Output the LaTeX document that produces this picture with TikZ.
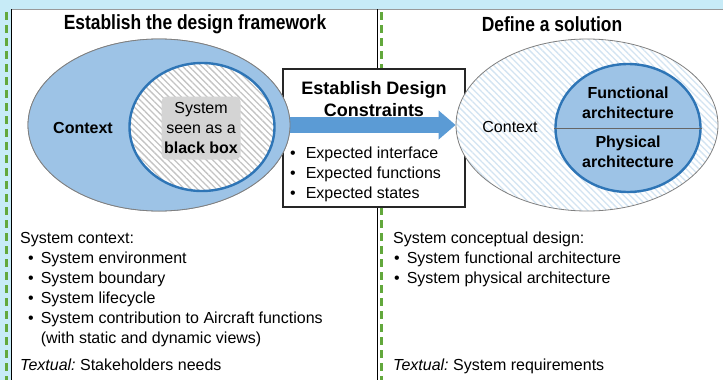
\documentclass[tikz,border=0pt]{standalone}
\usepackage{fontspec}
\setmainfont{Liberation Sans}
\newfontfamily\headfont[FakeStretch=0.85]{Liberation Sans Bold}
\usetikzlibrary{shapes.geometric,patterns.meta,arrows.meta}
\frenchspacing

\definecolor{bgblue}{HTML}{C7EBF7}
\definecolor{dashgreen}{HTML}{62A83C}
\definecolor{ctxblue}{HTML}{9DC3E6}
\definecolor{ringblue}{HTML}{2E75B6}
\definecolor{arrowblue}{HTML}{5B9BD5}
\definecolor{boxgray}{HTML}{D4D4D4}
\definecolor{hatchgray}{HTML}{C4C4C4}
\definecolor{hatchblue}{HTML}{D3E4F2}

\begin{document}
\begin{tikzpicture}[x=1pt,y=-1pt,>=latex,
  every node/.style={inner sep=0pt,font=\fontsize{16}{20}\selectfont},
  headline/.style={font=\headfont\fontsize{20.5}{24}\selectfont},
  boldtext/.style={font=\bfseries\fontsize{16}{20}\selectfont,align=center},
  outerell/.style={ellipse,draw=gray,line width=0.8pt,minimum width=262pt,minimum height=172pt},
  innerell/.style={ellipse,draw=ringblue,line width=2.4pt,minimum width=145pt,minimum height=128pt},
  hatched/.style={preaction={fill=white},preaction={pattern={Lines[angle=-45,distance=4.5pt,line width=1.3pt]},pattern color=#1}},
  greendash/.style={draw=dashgreen,line width=3pt,dash pattern=on 8pt off 5pt}]

\useasboundingbox (0,0) rectangle (723,380);

% background and panel
\fill[bgblue] (0,0) rectangle (723,380);
\fill[white] (11,9) rectangle (723,380);
\draw[gray!80,line width=0.8pt] (11,9) -- (723,9);

% panel borders
\draw[line width=0.9pt] (11.5,9) -- (11.5,380);
\draw[greendash] (6,12) -- (6,380);
\draw[line width=0.9pt] (377.5,9) -- (377.5,380);
\draw[greendash] (381,12) -- (381,380);

% titles
\node[headline] (ttlL) at (195,24) {Establish the design framework};
\node[headline] (ttlR) at (552,24) {Define a solution};

% constraints box
\node[draw=black!85,line width=1.1pt,fill=white,minimum width=182pt,minimum height=138pt] (dcbox) at (374,138) {};
\node[font=\bfseries\fontsize{18}{22}\selectfont,align=center] (dctitle) at (374,99) {Establish Design\\Constraints};
\node[anchor=base west] (dclist) at (287,158.7) {%
  \begin{tabular}[t]{@{}l@{\hspace{10pt}}l@{}}
    \hspace{3pt}\textbullet & Expected interface\\
    \hspace{3pt}\textbullet & Expected functions\\
    \hspace{3pt}\textbullet & Expected states
  \end{tabular}};

% context ellipses
\node[outerell,fill=ctxblue] (ctxL) at (159,125) {};
\node[outerell,hatched=hatchblue] (ctxR) at (587,125) {};
\draw[line width=16pt,draw=arrowblue,-{Triangle[length=17pt,width=28pt]}] ([xshift=-6pt]ctxL.east) -- (ctxR.west);
\node[outerell,fill=ctxblue] at (159,125) {};

% left: system as black box
\node[font=\bfseries\fontsize{16}{20}\selectfont] (ctxLtxt) at (83,128) {Context};
\node[innerell,hatched=hatchgray] (sysL) at (202,127) {};
\node[fill=boxgray,rounded corners=5pt,minimum width=79pt,minimum height=63pt,align=center] (bbox) at (201,128) {System\\seen as a\\\textbf{black box}};

% right: architectures
\node (ctxRtxt) at (510,127) {Context};
\node[innerell,fill=ctxblue] (archR) at (628,128) {};
\draw[black!60,line width=0.8pt] (archR.west) -- (archR.east);
\node[boldtext] (func) at (628,103) {Functional\\architecture};
\node[boldtext] (phys) at (628,152) {Physical\\architecture};

% bottom texts
\node[anchor=base west] (listL) at (20,243.7) {%
  \begin{tabular}[t]{@{}l@{\hspace{7pt}}l@{}}
    \multicolumn{2}{@{}l@{}}{System context:}\\
    \hspace{8pt}\textbullet & System environment\\
    \hspace{8pt}\textbullet & System boundary\\
    \hspace{8pt}\textbullet & System lifecycle\\
    \hspace{8pt}\textbullet & System contribution to Aircraft functions\\
     & (with static and dynamic views)
  \end{tabular}};
\node[anchor=base west] (txtL) at (20,370.7) {{\itshape Textual:} Stakeholders needs};

\node[anchor=base west] (listR) at (393,243.7) {%
  \begin{tabular}[t]{@{}l@{\hspace{7pt}}l@{}}
    \multicolumn{2}{@{}l@{}}{System conceptual design:}\\
    \hspace{1pt}\textbullet & System functional architecture\\
    \hspace{1pt}\textbullet & System physical architecture
  \end{tabular}};
\node[anchor=base west] (txtR) at (393,370.7) {{\itshape Textual:} System requirements};

\end{tikzpicture}
\end{document}
